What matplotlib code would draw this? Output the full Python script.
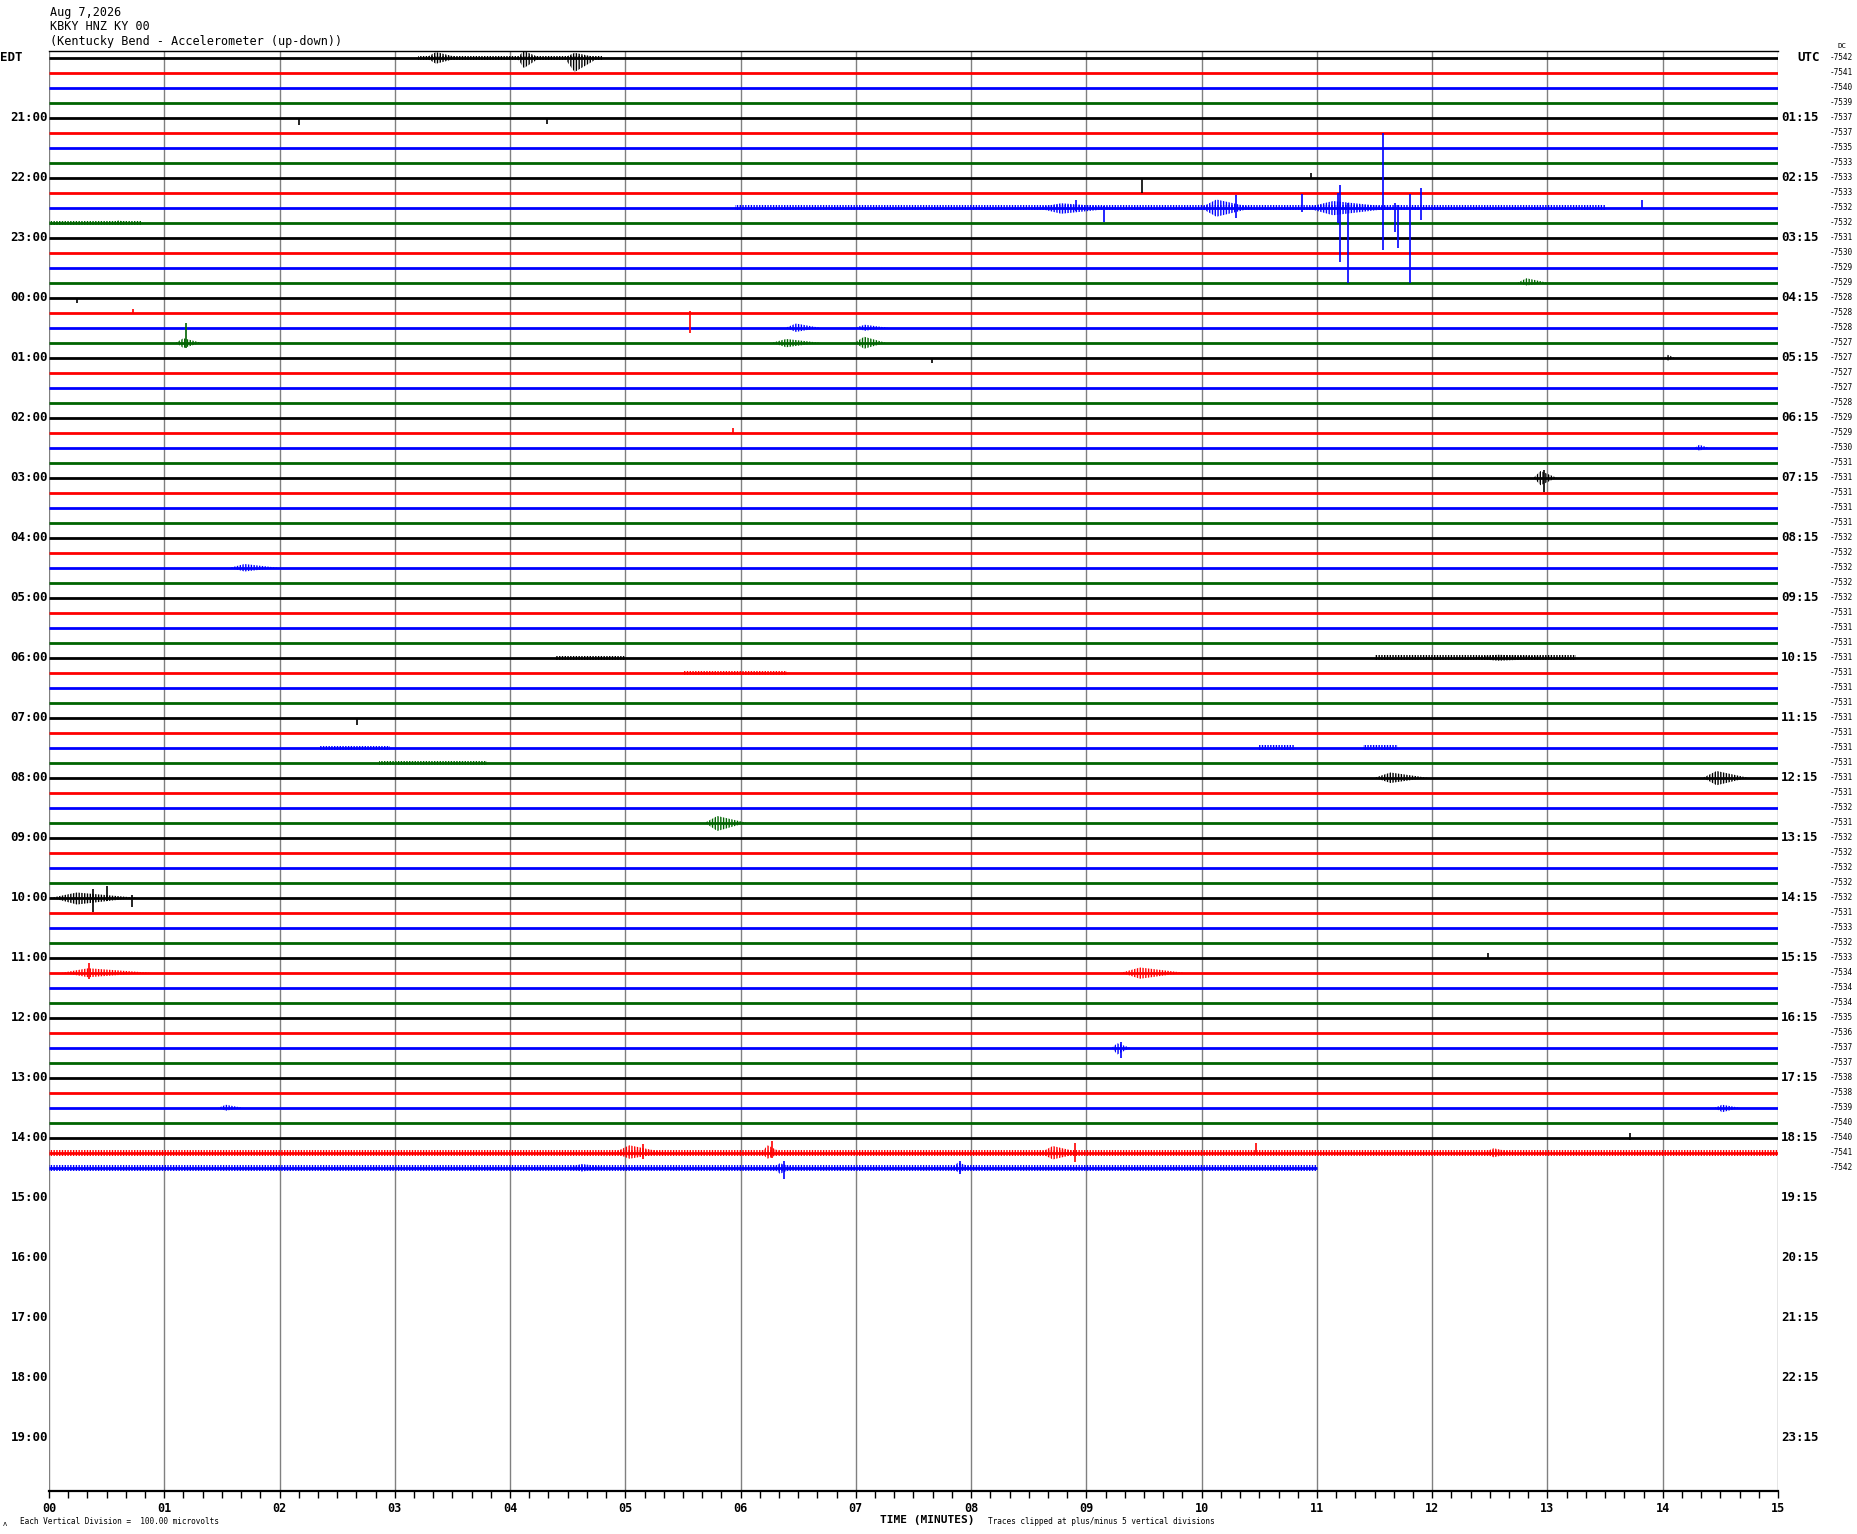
import matplotlib
matplotlib.use("Agg")
import matplotlib.pyplot as plt
from matplotlib.transforms import blended_transform_factory

# ---- data ----
title_lines = ["Aug 7,2026", "KBKY HNZ KY 00", "(Kentucky Bend - Accelerometer (up-down))"]
edt_labels = ["21:00", "22:00", "23:00", "00:00", "01:00", "02:00", "03:00", "04:00",
              "05:00", "06:00", "07:00", "08:00", "09:00", "10:00", "11:00", "12:00",
              "13:00", "14:00", "15:00", "16:00", "17:00", "18:00", "19:00"]
utc_labels = ["01:15", "02:15", "03:15", "04:15", "05:15", "06:15", "07:15", "08:15",
              "09:15", "10:15", "11:15", "12:15", "13:15", "14:15", "15:15", "16:15",
              "17:15", "18:15", "19:15", "20:15", "21:15", "22:15", "23:15"]
dc_offsets = [-7542, -7541, -7540, -7539, -7537, -7537, -7535, -7533,
              -7533, -7533, -7532, -7532, -7531, -7530, -7529, -7529,
              -7528, -7528, -7528, -7527, -7527, -7527, -7527, -7528,
              -7529, -7529, -7530, -7531, -7531, -7531, -7531, -7531,
              -7532, -7532, -7532, -7532, -7532, -7531, -7531, -7531,
              -7531, -7531, -7531, -7531, -7531, -7531, -7531, -7531,
              -7531, -7531, -7532, -7531, -7532, -7532, -7532, -7532,
              -7532, -7531, -7533, -7532, -7533, -7534, -7534, -7534,
              -7535, -7536, -7537, -7537, -7538, -7538, -7539, -7540,
              -7540, -7541, -7542]
trace_colors = ["#000000", "#ff0000", "#0000ff", "#006400"]
last_trace_end = 11.0  # minutes, last (partial) line

# busy stretches: (row, start min, end min, half width in divisions)
noise_rows = [0, 10, 11, 40, 40, 41, 46, 46, 46, 47, 73, 74]
noise_t0 = [3.2, 5.95, 0.0, 4.4, 11.5, 5.5, 2.35, 10.5, 11.4, 2.86, 0.0, 0.0]
noise_t1 = [4.8, 13.5, 0.8, 5.0, 13.25, 6.4, 2.96, 10.8, 11.7, 3.8, 15.0, 11.0]
noise_half = [0.12, 0.16, 0.12, 0.12, 0.18, 0.12, 0.12, 0.16, 0.16, 0.12, 0.2, 0.2]

# bursts: (row, start, end, up, down) in divisions
burst_rows = [0, 0, 0, 10, 10, 10, 11, 15, 18, 18, 19, 19, 19, 20, 26, 28, 34, 40,
              48, 48, 51, 56, 61, 61, 66, 70, 70, 73, 73, 73, 73, 74, 74, 74]
burst_t0 = [3.27, 4.06, 4.47, 8.56, 9.99, 10.9, 0.55, 12.74, 6.39, 6.99, 1.1, 6.27, 6.99,
            14.02, 14.28, 12.88, 1.57, 12.3, 11.5, 14.35, 5.69, 0.02, 0.11, 9.3, 9.22,
            1.47, 14.45, 4.9, 6.18, 8.6, 12.45, 4.5, 6.28, 7.83]
burst_t1 = [3.56, 4.26, 4.77, 9.3, 10.45, 11.7, 0.72, 13.0, 6.69, 7.28, 1.32, 6.69, 7.26,
            14.1, 14.4, 13.08, 1.99, 13.2, 11.96, 14.74, 6.05, 0.76, 0.88, 9.85, 9.38,
            1.68, 14.67, 5.35, 6.36, 8.96, 12.72, 4.9, 6.48, 8.02]
burst_up = [0.38, 0.45, 0.33, 0.3, 0.55, 0.45, 0.15, 0.3, 0.28, 0.2, 0.3, 0.25, 0.4,
            0.2, 0.2, 0.45, 0.25, 0.2, 0.35, 0.45, 0.45, 0.35, 0.3, 0.35, 0.3,
            0.2, 0.2, 0.5, 0.5, 0.45, 0.3, 0.25, 0.3, 0.35]
burst_down = [0.4, 0.69, 0.95, 0.4, 0.6, 0.5, 0.15, 0.18, 0.28, 0.2, 0.35, 0.3, 0.4,
              0.2, 0.2, 0.5, 0.25, 0.2, 0.35, 0.5, 0.55, 0.45, 0.3, 0.4, 0.45,
              0.2, 0.3, 0.4, 0.4, 0.45, 0.3, 0.25, 0.4, 0.3]

# single spikes: (row, minute, up, down) in divisions
spike_rows = [4, 4, 8, 8, 10, 10, 10, 10, 10, 10, 10, 10, 10, 10, 10, 10, 10, 16, 17,
              17, 19, 20, 25, 28, 44, 56, 56, 56, 60, 61, 66, 72, 73, 73, 73, 73, 74, 74]
spike_t = [2.17, 4.32, 9.48, 10.95, 8.91, 9.15, 10.3, 10.87, 11.18, 11.2, 11.27,
           11.57, 11.68, 11.7, 11.81, 11.9, 13.82, 0.24, 0.73, 5.56, 1.19, 7.66, 5.93,
           12.97, 2.67, 0.38, 0.5, 0.72, 12.48, 0.35, 9.3, 13.72, 6.27, 8.9, 10.47,
           5.15, 6.38, 7.9]
spike_up = [0.0, 0.0, 0.0, 0.3, 0.5, 0.1, 0.85, 0.9, 1.0, 1.5, 0.3, 5.0, 0.3, 0.2,
            0.9, 1.3, 0.5, 0.0, 0.25, 0.15, 1.3, 0.0, 0.3, 0.55, 0.0, 0.6, 0.78, 0.2,
            0.3, 0.67, 0.4, 0.35, 0.8, 0.65, 0.65, 0.6, 0.45, 0.45]
spike_down = [0.5, 0.4, 1.0, 0.1, 0.2, 0.93, 0.7, 0.3, 1.0, 3.6, 5.0, 2.8, 1.6, 2.7,
              5.0, 0.8, 0.1, 0.38, 0.0, 1.38, 0.35, 0.35, 0.0, 0.95, 0.48, 0.93, 0.2,
              0.6, 0.0, 0.4, 0.7, 0.15, 0.35, 0.6, 0.0, 0.4, 0.75, 0.4]

# ---- figure ----
W, H = 1858, 1534
plt.rcParams["hatch.linewidth"] = 1.0
fig = plt.figure(figsize=(W / 100, H / 100), dpi=100)
ax = fig.add_axes([49 / W, 1 - 1491 / H, (1778 - 49) / W, (1491 - 51) / H])
ax.set_xlim(0, 15)
ax.set_ylim(95.55, -0.45)

mono = "DejaVu Sans Mono"
n_data = len(dc_offsets)

for m in range(16):
    ax.axvline(m, color="#808080", lw=1.0, zorder=1)

for i in range(n_data):
    c = trace_colors[i % 4]
    end = last_trace_end if i == n_data - 1 else 15.0
    ax.plot([0, end], [i, i], color=c, lw=2.0, solid_capstyle="butt", zorder=3)

for r, a, b, h in zip(noise_rows, noise_t0, noise_t1, noise_half):
    c = trace_colors[r % 4]
    ax.fill([a, b, b, a], [r - h, r - h, r + h, r + h], facecolor="none",
            edgecolor=c, hatch="||||||", lw=0, zorder=3)

for r, a, b, u, d in zip(burst_rows, burst_t0, burst_t1, burst_up, burst_down):
    c = trace_colors[r % 4]
    pk = a + 0.3 * (b - a)
    ax.fill([a, pk, b, pk], [r, r - u, r, r + d], facecolor="none",
            edgecolor=c, hatch="||||||", lw=0, zorder=4)

for r, t, u, d in zip(spike_rows, spike_t, spike_up, spike_down):
    ax.vlines(t, r - min(u, 5), r + min(d, 5), color=trace_colors[r % 4],
              lw=1.2, zorder=5)

# axes frame
for s in ["left", "right"]:
    ax.spines[s].set_visible(False)
ax.spines["top"].set_linewidth(1.0)
ax.spines["bottom"].set_linewidth(1.6)
ax.set_yticks([])
ax.set_xticks(range(16))
ax.set_xticks([k / 6 for k in range(91)], minor=True)
ax.set_xticklabels(["%02d" % m for m in range(16)], fontfamily=mono,
                   fontsize=8.5, fontweight="bold")
ax.tick_params(axis="x", which="both", direction="out", length=5, width=1, pad=3)

# side labels
lt = blended_transform_factory(fig.transFigure, ax.transData)
ax.text(0 / W, 0, "EDT", transform=lt, ha="left", va="center",
        fontfamily=mono, fontsize=9, fontweight="bold")
ax.text(1797 / W, 0, "UTC", transform=lt, ha="left", va="center",
        fontfamily=mono, fontsize=9, fontweight="bold")
for k, (el, ul) in enumerate(zip(edt_labels, utc_labels)):
    row = 4 * (k + 1)
    ax.text(48 / W, row, el, transform=lt, ha="right", va="center",
            fontfamily=mono, fontsize=9, fontweight="bold")
    ax.text(1781 / W, row, ul, transform=lt, ha="left", va="center",
            fontfamily=mono, fontsize=9, fontweight="bold")
for i, v in enumerate(dc_offsets):
    ax.text(1830 / W, i, str(v), transform=lt, ha="left", va="center",
            fontfamily=mono, fontsize=5.6)
fig.text(1838 / W, 1 - 46 / H, "DC", fontfamily=mono, fontsize=5.4,
         ha="left", va="center")

# title block
for k, line in enumerate(title_lines):
    fig.text(50 / W, 1 - (12.3 + 14.7 * k) / H, line, fontfamily=mono,
             fontsize=8.5, ha="left", va="center")

# bottom notes
fig.text(927 / W, 1 - 1520 / H, "TIME (MINUTES)", fontfamily=mono, fontsize=8,
         fontweight="bold", ha="center", va="center")
fig.text(20 / W, 1 - 1522 / H, "Each Vertical Division =  100.00 microvolts",
         fontfamily=mono, fontsize=5.6, ha="left", va="center")
fig.text(988 / W, 1 - 1522 / H, "Traces clipped at plus/minus 5 vertical divisions",
         fontfamily=mono, fontsize=5.6, ha="left", va="center")
fig.text(3 / W, 1 - 1524 / H, "\u028c", fontfamily=mono, fontsize=5,
         ha="left", va="center")

fig.savefig("out.png", dpi=100)
